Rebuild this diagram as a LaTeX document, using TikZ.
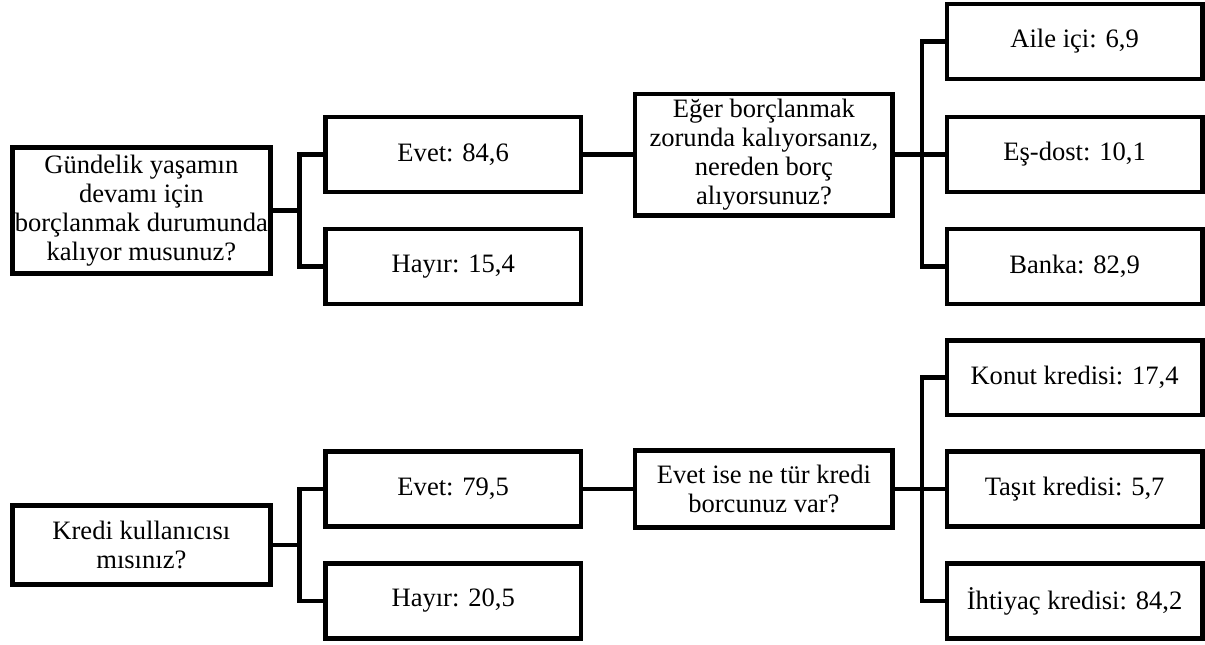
\documentclass[tikz,border=0pt]{standalone}
\usepackage{fontspec}
\setmainfont{Liberation Serif}
\begin{document}
\begin{tikzpicture}[line width=3.5pt,
  question/.style={draw, align=center, inner sep=1pt, minimum width=6.82cm, font=\fontsize{20}{21.75}\selectfont},
  answer/.style={draw, align=center, inner sep=1pt, minimum width=6.76cm, minimum height=1.98cm, font=\fontsize{20}{21.75}\selectfont}]
\useasboundingbox (0,0) rectangle (31.88,-17.04);
\node[question, minimum height=3.34cm] (n1) at (3.74,-5.57) {Gündelik yaşamın\\devamı için\\borçlanmak durumunda\\kalıyor musunuz?};
\node[answer] (n2) at (11.99,-4.09) {Evet: 84,6};
\node[answer] (n3) at (11.99,-7.05) {Hayır: 15,4};
\node[question, minimum height=3.21cm] (n4) at (20.21,-4.09) {Eğer borçlanmak\\zorunda kalıyorsanız,\\nereden borç\\alıyorsunuz?};
\node[answer] (n5) at (28.43,-1.10) {Aile içi: 6,9};
\node[answer] (n6) at (28.43,-4.09) {Eş-dost: 10,1};
\node[answer] (n7) at (28.43,-7.05) {Banka: 82,9};
\node[question, minimum height=2.10cm] (n8) at (3.74,-14.42) {Kredi kullanıcısı\\mısınız?};
\node[answer] (n9) at (11.99,-12.94) {Evet: 79,5};
\node[answer] (n10) at (11.99,-15.90) {Hayır: 20,5};
\node[question, minimum height=2.04cm] (n11) at (20.21,-12.94) {Evet ise ne tür kredi\\borcunuz var?};
\node[answer] (n12) at (28.43,-9.99) {Konut kredisi: 17,4};
\node[answer] (n13) at (28.43,-12.94) {Taşıt kredisi: 5,7};
\node[answer] (n14) at (28.43,-15.90) {İhtiyaç kredisi: 84,2};
\draw (n1.east) -- ++(0.72,0) |- (n2.west);
\draw (n1.east) -- ++(0.72,0) |- (n3.west);
\draw (n2.east) -- (n4.west);
\draw (n4.east) -- ++(0.71,0) |- (n5.west);
\draw (n4.east) -- (n6.west);
\draw (n4.east) -- ++(0.71,0) |- (n7.west);
\draw (n8.east) -- ++(0.72,0) |- (n9.west);
\draw (n8.east) -- ++(0.72,0) |- (n10.west);
\draw (n9.east) -- (n11.west);
\draw (n11.east) -- ++(0.71,0) |- (n12.west);
\draw (n11.east) -- (n13.west);
\draw (n11.east) -- ++(0.71,0) |- (n14.west);
\end{tikzpicture}
\end{document}
